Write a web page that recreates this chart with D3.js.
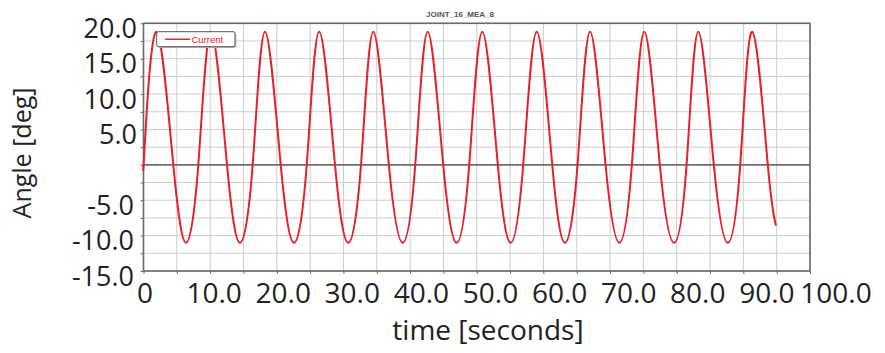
<!DOCTYPE html>
<html>
<head>
<meta charset="utf-8">
<script src="https://cdn.jsdelivr.net/npm/d3@7"></script>
<style>
  html, body { margin: 0; padding: 0; background: #fff; }
  svg { display: block; }
</style>
</head>
<body>
<script>
// values: peaks, zero crossings and troughs of the joint angle
const timeS = [0, 0.2, 1.95, 4.47, 6.38, 8.22, 10.13, 12.53, 14.48, 16.38, 18.23, 20.59,
  22.59, 24.49, 26.36, 28.73, 30.73, 32.63, 34.48, 36.81, 38.89, 40.77, 42.64, 44.97,
  46.99, 48.87, 50.83, 53.16, 55.09, 56.97, 59.0, 61.33, 63.24, 65.12, 67.0, 69.33,
  71.39, 73.27, 75.14, 77.47, 79.6, 81.48, 83.24, 85.57, 87.65, 89.53, 91.34, 93.67, 94.9];
const angleDeg = [0.1, 3.0, 18.8, 0, -11.0, 0, 18.8, 0, -11.0, 0, 18.8, 0,
  -11.0, 0, 18.8, 0, -11.0, 0, 18.8, 0, -11.0, 0, 18.8, 0,
  -11.0, 0, 18.8, 0, -11.0, 0, 18.8, 0, -11.0, 0, 18.8, 0,
  -11.0, 0, 18.8, 0, -11.0, 0, 18.8, 0, -11.0, 0, 18.8, 0, -8.6];

const xTickLabels = [0, 10, 20, 30, 40, 50, 60, 70, 80, 90, 100];
const yTickLabels = [20, 15, 10, 5, -5, -10, -15];
const xGridTicks = [0, 5, 10, 15, 20, 25, 30, 35, 40, 45, 50, 55, 60, 65, 70, 75, 80, 85, 90, 95, 100];
const yGridTicks = [-15, -12.5, -10, -7.5, -5, -2.5, 0, 2.5, 5, 7.5, 10, 12.5, 15, 17.5, 20];

const seriesName = "Current";
const chartTitle = "JOINT_16_MEA_8";

const W = 885, H = 353;
const plotL = 143.5, plotR = 810, plotT = 23.3, plotB = 271;

const svg = d3.select("body").append("svg")
    .attr("width", W)
    .attr("height", H);

const x = d3.scaleLinear().domain([0, 100]).range([plotL, plotR]);
const y = d3.scaleLinear().domain([-15, 20]).range([plotB, plotT]);
// the tick numbers are typed over the plot and sit a bit off the grid
const xLabel = d3.scaleLinear().domain([0, 100]).range([145, 836]);

const grid = svg.append("g").attr("stroke", "#cdcdcd").attr("stroke-width", 1);
grid.selectAll("line.v")
    .data(xGridTicks)
    .join("line")
        .attr("class", "v")
        .attr("x1", d => x(d)).attr("x2", d => x(d))
        .attr("y1", plotT).attr("y2", plotB);
grid.selectAll("line.h")
    .data(yGridTicks)
    .join("line")
        .attr("class", "h")
        .attr("x1", plotL).attr("x2", plotR)
        .attr("y1", d => y(d)).attr("y2", d => y(d));

// zero line
svg.append("line")
    .attr("x1", plotL).attr("x2", plotR)
    .attr("y1", y(0)).attr("y2", y(0))
    .attr("stroke", "#707070")
    .attr("stroke-width", 1.6);

// frame
svg.append("rect")
    .attr("x", plotL).attr("y", plotT)
    .attr("width", plotR - plotL).attr("height", plotB - plotT)
    .attr("fill", "none")
    .attr("stroke", "#6a6a6a")
    .attr("stroke-width", 1.6);

// small ticks
svg.append("g")
    .attr("transform", `translate(0,${plotB})`)
    .call(d3.axisBottom(x).tickValues(xGridTicks).tickSize(3).tickFormat(""))
    .call(g => g.select(".domain").remove())
    .call(g => g.selectAll("line").attr("stroke", "#6a6a6a"));
svg.append("g")
    .attr("transform", `translate(${plotL},0)`)
    .call(d3.axisLeft(y).tickValues(yGridTicks).tickSize(3).tickFormat(""))
    .call(g => g.select(".domain").remove())
    .call(g => g.selectAll("line").attr("stroke", "#6a6a6a"));

const points = timeS.map((t, i) => [t, angleDeg[i]]);
const line = d3.line()
    .x(d => x(d[0]))
    .y(d => y(d[1]))
    .curve(d3.curveNatural);

svg.append("path")
    .datum(points)
    .attr("fill", "none")
    .attr("stroke", "#e3222b")
    .attr("stroke-width", 2)
    .attr("d", line);

// legend
const legend = svg.append("g");
legend.append("rect")
    .attr("x", 158).attr("y", 33)
    .attr("width", 78.3).attr("height", 15)
    .attr("rx", 2)
    .attr("fill", "#b8b8b8");
legend.append("rect")
    .attr("x", 156.7).attr("y", 31.7)
    .attr("width", 78.3).attr("height", 15)
    .attr("rx", 2)
    .attr("fill", "#fff")
    .attr("stroke", "#555")
    .attr("stroke-width", 1);
legend.append("line")
    .attr("x1", 165).attr("x2", 190)
    .attr("y1", 39.2).attr("y2", 39.2)
    .attr("stroke", "#e3222b")
    .attr("stroke-width", 1.5);
legend.append("text")
    .attr("x", 191.5).attr("y", 42.6)
    .attr("font-family", "Liberation Sans, Arial, sans-serif")
    .attr("font-size", 9.5)
    .attr("fill", "#e3222b")
    .text(seriesName);

// title
svg.append("text")
    .attr("x", 460).attr("y", 17)
    .attr("text-anchor", "middle")
    .attr("font-family", "Liberation Sans, Arial, sans-serif")
    .attr("font-size", 8)
    .attr("font-weight", "bold")
    .attr("fill", "#555")
    .text(chartTitle);

const font = "'Open Sans', sans-serif";

svg.append("g")
    .selectAll("text")
    .data(yTickLabels)
    .join("text")
        .attr("x", d => d < 0 ? 134 : 137)
        .attr("y", d => y(d) + 5)
        .attr("dy", "0.36em")
        .attr("text-anchor", "end")
        .attr("font-family", font)
        .attr("font-size", 27)
        .attr("fill", "#222")
        .text(d => d.toFixed(1));

svg.append("g")
    .selectAll("text")
    .data(xTickLabels)
    .join("text")
        .attr("x", d => xLabel(d))
        .attr("y", 303)
        .attr("text-anchor", "middle")
        .attr("font-family", font)
        .attr("font-size", 28)
        .attr("fill", "#222")
        .text(d => d === 0 ? "0" : d.toFixed(1));

svg.append("text")
    .attr("x", 488).attr("y", 340)
    .attr("text-anchor", "middle")
    .attr("font-family", font)
    .attr("font-size", 28)
    .attr("fill", "#222")
    .text("time [seconds]");

svg.append("text")
    .attr("transform", "translate(31,153) rotate(-90)")
    .attr("text-anchor", "middle")
    .attr("font-family", font)
    .attr("font-size", 25)
    .attr("fill", "#222")
    .text("Angle [deg]");
</script>
</body>
</html>
